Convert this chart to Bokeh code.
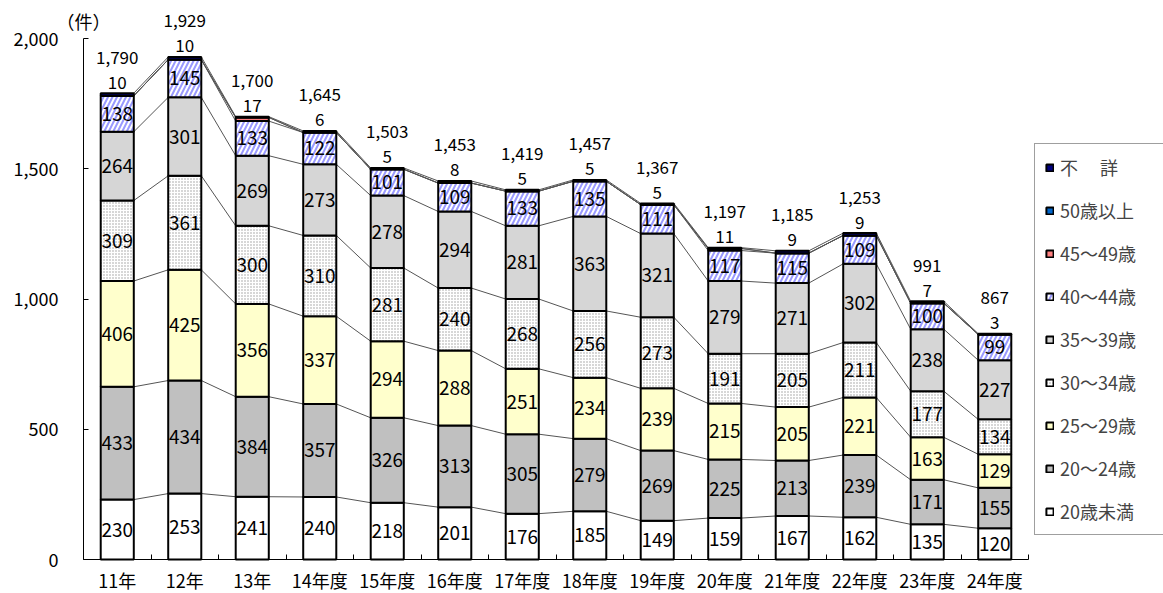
import numpy as np
from bokeh.plotting import figure
from bokeh.models import (ColumnDataSource, Range1d, FixedTicker, Legend, LegendItem,
                          Label, NumeralTickFormatter)
from bokeh.core.properties import value
from bokeh.embed import file_html
from bokeh.resources import INLINE

FONT = "Noto Sans CJK JP"

categories = ["11年", "12年", "13年", "14年度", "15年度", "16年度", "17年度",
              "18年度", "19年度", "20年度", "21年度", "22年度", "23年度", "24年度"]
under20 = [230, 253, 241, 240, 218, 201, 176, 185, 149, 159, 167, 162, 135, 120]
age20_24 = [433, 434, 384, 357, 326, 313, 305, 279, 269, 225, 213, 239, 171, 155]
age25_29 = [406, 425, 356, 337, 294, 288, 251, 234, 239, 215, 205, 221, 163, 129]
age30_34 = [309, 361, 300, 310, 281, 240, 268, 256, 273, 191, 205, 211, 177, 134]
age35_39 = [264, 301, 269, 273, 278, 294, 281, 363, 321, 279, 271, 302, 238, 227]
age40_44 = [138, 145, 133, 122, 101, 109, 133, 135, 111, 117, 115, 109, 100, 99]
age45_49 = [0, 0, 14, 0, 0, 0, 0, 0, 0, 8, 0, 0, 0, 0]
age50_over = [0, 0, 0, 0, 0, 0, 0, 0, 0, 0, 0, 0, 0, 0]
unknown = [10, 10, 3, 6, 5, 8, 5, 5, 5, 3, 9, 9, 7, 3]

series_names = ["20歳未満", "20～24歳", "25～29歳", "30～34歳", "35～39歳",
                "40～44歳", "45～49歳", "50歳以上", "不　 詳"]
series_values = [under20, age20_24, age25_29, age30_34, age35_39,
                 age40_44, age45_49, age50_over, unknown]
y_ticks = [0, 500, 1000, 1500, 2000]

styles = [
    dict(fill_color="white"),
    dict(fill_color="#c0c0c0"),
    dict(fill_color="#ffffcc"),
    dict(fill_color="white", hatch_pattern="dot", hatch_color="#9a9a9a", hatch_scale=3, hatch_weight=1),
    dict(fill_color="#d6d6d6"),
    dict(fill_color="white", hatch_pattern="right_diagonal_line", hatch_color="#9999ff", hatch_scale=9, hatch_weight=2),
    dict(fill_color="#ff8080"),
    dict(fill_color="#0066cc"),
    dict(fill_color="#000080"),
]

n = len(categories)
xs = np.arange(n)
W = 0.49
vals = np.array(series_values, dtype=float)
cum = np.vstack([np.zeros(n), np.cumsum(vals, axis=0)])
totals = cum[-1]

# canvas geometry (pixels): frame covers the whole canvas, axes placed with fixed_location
CW, CH = 1163, 593
AX_L, AX_R = 83.0, 1028.0      # pixel x of the plot-area left / right edges
AX_B, AX_T = 559.0, 38.0       # pixel y of value 0 / value 2000
ppx = (AX_R - AX_L) / n
ppy = (AX_B - AX_T) / y_ticks[-1]
x0 = -0.5 - AX_L / ppx
x1 = x0 + CW / ppx
y1 = AX_B / ppy
y0 = -(CH - AX_B) / ppy

p = figure(width=CW, height=CH, x_range=Range1d(x0, x1), y_range=Range1d(y0, y1),
           output_backend="svg", toolbar_location=None,
           min_border_left=0, min_border_right=0, min_border_top=0, min_border_bottom=0)
p.outline_line_color = None
p.xgrid.visible = False
p.ygrid.visible = False

# series lines
for k in range(1, len(series_values) + 1):
    p.segment(x0=xs[:-1] + W / 2, y0=cum[k][:-1], x1=xs[1:] - W / 2, y1=cum[k][1:],
              line_color="#555555", line_width=1)

renderers = []
for k, (name, st) in enumerate(zip(series_names, styles)):
    src = ColumnDataSource(dict(x=xs, bottom=cum[k], top=cum[k + 1]))
    r = p.vbar(x="x", width=W, bottom="bottom", top="top", source=src,
               line_color="black", line_width=2, **st)
    renderers.append(r)

# value labels inside segments (first six series)
for k in range(6):
    src = ColumnDataSource(dict(x=xs, y=(cum[k] + cum[k + 1]) / 2,
                                t=[str(int(v)) for v in vals[k]]))
    p.text(x="x", y="y", text="t", source=src, text_align="center", text_baseline="middle",
           text_font=value(FONT), text_font_size="19px", text_color="black")

small = vals[6] + vals[7] + vals[8]
src_s = ColumnDataSource(dict(x=xs, y=totals, t=[str(int(v)) for v in small],
                              tt=[f"{int(v):,}" for v in totals]))
p.text(x="x", y="y", text="t", source=src_s, text_align="center", text_baseline="middle",
       y_offset=-11, text_font=value(FONT), text_font_size="17px", text_color="black")
p.text(x="x", y="y", text="tt", source=src_s, text_align="center", text_baseline="middle",
       y_offset=-36, text_font=value(FONT), text_font_size="17px", text_color="black")

# axes
p.yaxis.fixed_location = -0.5
p.yaxis.ticker = FixedTicker(ticks=y_ticks)
p.yaxis.formatter = NumeralTickFormatter(format="0,0")
p.yaxis.bounds = (0, y_ticks[-1])
p.yaxis.major_tick_in = 5
p.yaxis.major_tick_out = 0
p.yaxis.minor_tick_line_color = None
p.yaxis.major_label_standoff = 25
p.yaxis.axis_line_color = "black"
p.yaxis.major_label_text_font = FONT
p.yaxis.major_label_text_font_size = "18px"
p.yaxis.major_label_text_color = "black"

p.xaxis.fixed_location = 0
p.xaxis.bounds = (-0.5, n - 0.5)
p.xaxis.ticker = FixedTicker(ticks=list(range(n)), minor_ticks=[i - 0.5 for i in range(n + 1)])
p.xaxis.major_label_overrides = {i: c for i, c in enumerate(categories)}
p.xaxis.major_tick_line_color = None
p.xaxis.minor_tick_in = 5
p.xaxis.minor_tick_out = 0
p.xaxis.minor_tick_line_color = "black"
p.xaxis.axis_line_color = "black"
p.xaxis.major_label_standoff = 1
p.xaxis.major_label_text_font = FONT
p.xaxis.major_label_text_font_size = "18px"
p.xaxis.major_label_text_color = "black"

p.add_layout(Label(x=-0.5, y=y_ticks[-1], y_offset=18, text="（件）", text_align="center",
                   text_baseline="middle", text_font=FONT, text_font_size="18px",
                   text_color="black"))

items = [LegendItem(label=name, renderers=[r]) for name, r in zip(series_names, renderers)][::-1]
legend = Legend(items=items, location=(1034, CH - 535), orientation="vertical",
                glyph_width=9, glyph_height=9, label_height=20, label_width=106, spacing=17,
                padding=10, margin=0, label_standoff=6,
                label_text_font=FONT, label_text_font_size="18px",
                border_line_color="#404040", border_line_width=1,
                background_fill_color="white", background_fill_alpha=1)
p.add_layout(legend)

open("out.html", "w").write(file_html(p, INLINE))
